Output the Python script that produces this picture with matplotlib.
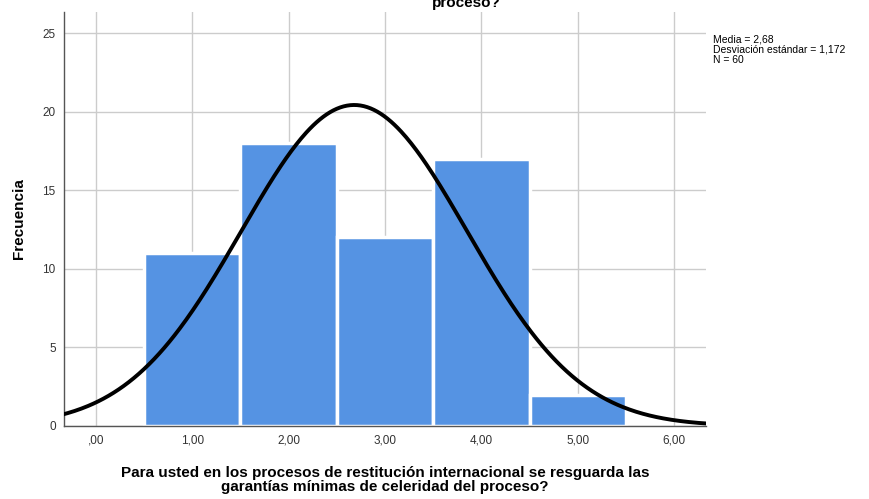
import numpy as np
import matplotlib
matplotlib.use("Agg")
import matplotlib.pyplot as plt

categories = [1, 2, 3, 4, 5]
counts = [11, 18, 12, 17, 2]
mean = 2.68
std = 1.172
n = 60
xticks = [0, 1, 2, 3, 4, 5, 6]
xticklabels = [",00", "1,00", "2,00", "3,00", "4,00", "5,00", "6,00"]
yticks = [0, 5, 10, 15, 20, 25]

plt.rcParams['font.family'] = ['Liberation Sans', 'DejaVu Sans']

fig = plt.figure(figsize=(8.7, 4.99), dpi=100)
ax = fig.add_axes([64/870, 73/499, 642/870, 414/499])

ax.set_axisbelow(True)
ax.grid(True, color='#cccccc', linewidth=1)
ax.bar(categories, counts, width=1.0, color='#5593E3', edgecolor='white', linewidth=2.5, zorder=2)

xs = np.linspace(-0.5, 6.5, 400)
ys = n * 1.0 * np.exp(-0.5 * ((xs - mean) / std) ** 2) / (std * np.sqrt(2 * np.pi))
ax.plot(xs, ys, color='black', linewidth=2.8, zorder=3, solid_capstyle='butt')

ax.set_xlim(-0.33, 6.33)
ax.set_ylim(0, 26.34)
ax.set_xticks(xticks)
ax.set_xticklabels(xticklabels, fontsize=8.5)
ax.set_yticks(yticks)
ax.set_yticklabels([str(v) for v in yticks], fontsize=8.5)
ax.tick_params(length=0, pad=6, colors='#333333')
for s in ['top', 'right']:
    ax.spines[s].set_visible(False)
for s in ['left', 'bottom']:
    ax.spines[s].set_color('#555555')
    ax.spines[s].set_linewidth(1)

ax.set_ylabel("Frecuencia", fontsize=11, fontweight='bold', labelpad=12)
ax.set_xlabel("Para usted en los procesos de restitución internacional se resguarda las\ngarantías mínimas de celeridad del proceso?",
              fontsize=11, fontweight='bold', linespacing=1.05, labelpad=14)

fig.text(466/870, 1 - 7/499, "proceso?", ha='center', va='baseline', fontsize=11, fontweight='bold')

fig.text(713/870, 1 - 35/499, "Media = 2,68\nDesviación estándar = 1,172\nN = 60",
         ha='left', va='top', fontsize=7.5, linespacing=1.0)

fig.savefig("out.png", dpi=100)
